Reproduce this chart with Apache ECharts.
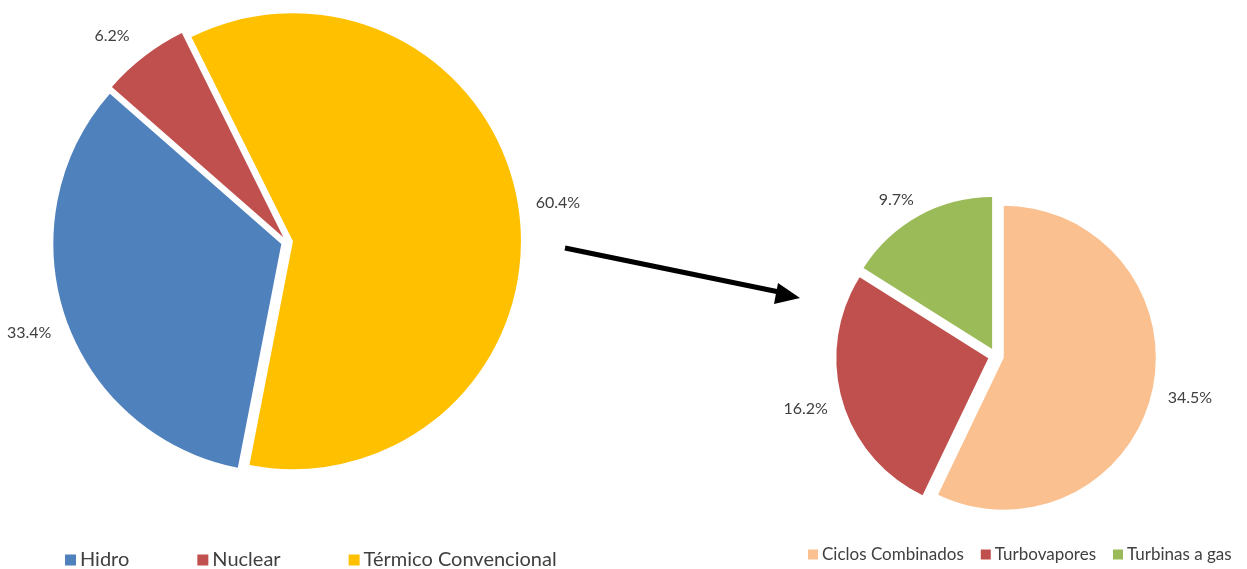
<!DOCTYPE html>
<html><head><meta charset="utf-8">
<script src="https://cdn.jsdelivr.net/npm/echarts@6/dist/echarts.min.js"></script>
<style>html,body{margin:0;padding:0;background:#fff}#c{width:1247px;height:569px}</style>
</head><body><div id="c"></div>
<script>
const mainNames = ['Hidro', 'Nuclear', 'Térmico Convencional'];
const mainValues = [33.4, 6.2, 60.4];
const mainColors = ['#4F81BD', '#C0504D', '#FFC000'];
const subNames = ['Ciclos Combinados', 'Turbovapores', 'Turbinas a gas'];
const subValues = [34.5, 16.2, 9.7];
const subColors = ['#FAC090', '#C0504D', '#9BBB59'];

// label nudges (style only)
const mainLabelShift = [[10, 11], [5, -10], [-8, -6]];
const subLabelShift = [[-9, 3], [10, 5], [13, -4]];

const FONT = 'Lato, "Open Sans", sans-serif';
const chart = echarts.init(document.getElementById('c'), null, {renderer: 'canvas'});

function mk(names, values, colors) {
  return names.map((n, i) => ({name: n, value: values[i], selected: true, itemStyle: {color: colors[i]}}));
}
const lbl = p => p.value.toFixed(1) + '%';
const shiftFn = shifts => params => ({dx: shifts[params.dataIndex][0], dy: shifts[params.dataIndex][1]});
const labelCfg = {show: true, position: 'outside', formatter: lbl, fontFamily: FONT, fontSize: 16,
  color: '#404040', overflow: 'none', edgeDistance: 0, bleedMargin: 0};

chart.setOption({
  animation: false,
  backgroundColor: '#fff',
  legend: [
    {
      data: mainNames, left: 65, top: 550, padding: 0, itemWidth: 11, itemHeight: 11, itemGap: 68,
      icon: 'rect', selectedMode: false,
      textStyle: {fontFamily: FONT, fontSize: 20, lineHeight: 20, color: '#404040', padding: [0, 0, 0, -1]}
    },
    {
      data: subNames, left: 808, top: 546, padding: 0, itemWidth: 10, itemHeight: 10, itemGap: 17,
      icon: 'rect', selectedMode: false,
      textStyle: {fontFamily: FONT, fontSize: 17, lineHeight: 17, color: '#404040', padding: [0, 0, 0, -1]}
    }
  ],
  series: [
    {
      type: 'pie', center: [287, 242], radius: 228, startAngle: -101, clockwise: true,
      selectedMode: 'multiple', selectedOffset: 6,
      select: {itemStyle: {borderWidth: 0}},
      emphasis: {disabled: true},
      avoidLabelOverlap: false,
      data: mk(mainNames, mainValues, mainColors),
      label: labelCfg,
      labelLine: {show: false, length: 14, length2: 6},
      labelLayout: shiftFn(mainLabelShift)
    },
    {
      type: 'pie', center: [996, 356], radius: 152, startAngle: 90, clockwise: true,
      selectedMode: 'multiple', selectedOffset: 8,
      select: {itemStyle: {borderWidth: 0}},
      emphasis: {disabled: true},
      avoidLabelOverlap: false,
      data: mk(subNames, subValues, subColors),
      label: labelCfg,
      labelLine: {show: false, length: 14, length2: 6},
      labelLayout: shiftFn(subLabelShift)
    }
  ],
  graphic: [
    {type: 'line', shape: {x1: 565, y1: 248, x2: 784, y2: 293}, style: {stroke: '#000', lineWidth: 5}, silent: true},
    {type: 'polygon', shape: {points: [[800, 298], [778, 283], [774, 304]]}, style: {fill: '#000'}, silent: true}
  ]
});
</script></body></html>
